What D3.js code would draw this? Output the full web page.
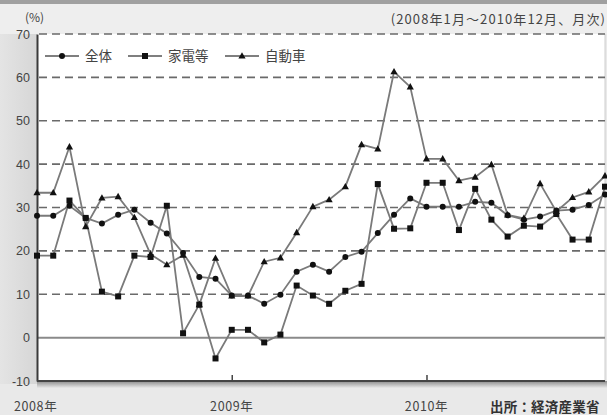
<!DOCTYPE html>
<html><head><meta charset="utf-8">
<script src="https://cdn.jsdelivr.net/npm/d3@7"></script>
<style>html,body{margin:0;padding:0;background:#e8e8e8;}svg{display:block;}</style>
</head><body>
<script>
const months = d3.range(36); // 2008-01 .. 2010-12
const yearLabels = ["2008年","2009年","2010年"];
const yearMonthIndex = [0,12,24];
const yTicks = [-10,0,10,20,30,40,50,60,70];
const seriesNames = ["全体","家電等","自動車"];
const zentai = [28.1,28.1,30.4,27.6,26.3,28.3,29.5,26.5,24.0,19.5,14.0,13.6,9.7,9.7,7.8,9.9,15.2,16.8,15.2,18.6,19.8,24.1,28.3,32.1,30.2,30.2,30.2,31.3,31.1,28.2,27.2,27.9,29.3,29.5,30.6,33.0];
const kaden  = [18.9,18.9,31.6,27.6,10.6,9.5,18.9,18.6,30.4,1.0,7.6,-4.8,1.8,1.8,-1.1,0.7,12.0,9.7,7.8,10.8,12.4,35.4,25.1,25.2,35.7,35.7,24.8,34.3,27.2,23.3,25.8,25.6,28.5,22.6,22.6,34.8];
const jidosha= [33.4,33.4,44.0,25.6,32.2,32.5,27.7,19.2,16.8,19.0,7.6,18.3,9.6,9.6,17.5,18.4,24.2,30.2,31.8,34.8,44.5,43.5,61.3,57.8,41.2,41.2,36.2,37.0,39.9,28.3,27.5,35.5,29.1,32.3,33.6,37.3];

const W=607,H=415;
const svg=d3.select("body").append("svg").attr("width",W).attr("height",H)
  .style("font-family","'Noto Sans CJK JP','Noto Sans',sans-serif");
const defs=svg.append("defs");
const lg=defs.append("linearGradient").attr("id","lm").attr("x1",0).attr("x2",1).attr("y1",0).attr("y2",0);
lg.append("stop").attr("offset",0).attr("stop-color","#e4e4e4");
lg.append("stop").attr("offset",1).attr("stop-color","#d6d6d6");
const sh=defs.append("linearGradient").attr("id","sh").attr("x1",0).attr("x2",0).attr("y1",0).attr("y2",1);
sh.append("stop").attr("offset",0).attr("stop-color","#8a8a8a");
sh.append("stop").attr("offset",1).attr("stop-color","#e8e8e8");

const x=d3.scaleLinear().domain([0,35]).range([37,605]);
const y=d3.scaleLinear().domain([-10,70]).range([381,34]);

// background pieces
svg.append("rect").attr("x",0).attr("y",0).attr("width",W).attr("height",H).attr("fill","#e9e9e9");
svg.append("rect").attr("x",0).attr("y",0).attr("width",W).attr("height",4).attr("fill","#a0a0a0");
svg.append("rect").attr("x",0).attr("y",4).attr("width",W).attr("height",30).attr("fill","#eeeeee");
svg.append("rect").attr("x",0).attr("y",34).attr("width",37).attr("height",350).attr("fill","url(#lm)");
svg.append("rect").attr("x",37).attr("y",34).attr("width",568).attr("height",347).attr("fill","#ffffff");
svg.append("rect").attr("x",37).attr("y",381).attr("width",570).attr("height",7).attr("fill","url(#sh)");
svg.append("line").attr("x1",605).attr("x2",605).attr("y1",34).attr("y2",381).attr("stroke","#cfcfcf").attr("stroke-width",1);

// grid
const grid=svg.append("g");
grid.selectAll("line").data(yTicks.filter(d=>d>0)).join("line")
  .attr("x1",39).attr("x2",605).attr("y1",d=>y(d)).attr("y2",d=>y(d))
  .attr("stroke","#6a6a6a").attr("stroke-width",1.6).attr("stroke-dasharray","8,5");
svg.append("line").attr("x1",37).attr("x2",605).attr("y1",y(0)).attr("y2",y(0))
  .attr("stroke","#8a8a8a").attr("stroke-width",2);

// y axis
const yAxis=d3.axisLeft(y).tickValues(yTicks).tickSize(0).tickPadding(7).tickFormat(d=>String(d));
const gy=svg.append("g").attr("transform","translate(37,0)").call(yAxis);
gy.select(".domain").attr("stroke","#3a3a3a").attr("stroke-width",2);
gy.selectAll("text").attr("font-size",12.5).attr("fill","#444").attr("font-family","'Liberation Sans',Arial,sans-serif");

// x axis
const xAxis=d3.axisBottom(x).tickValues([12,24]).tickSize(-6).tickFormat("");
const gx=svg.append("g").attr("transform","translate(0,381)").call(xAxis);
gx.select(".domain").attr("stroke","#444").attr("stroke-width",2).attr("d","M37,0H605");
gx.selectAll(".tick line").attr("stroke","#444").attr("stroke-width",1.5);
svg.selectAll(".ylab").data(yearMonthIndex).join("text").attr("class","ylab")
  .attr("x",d=>d===0?14:x(d)).attr("y",411).attr("text-anchor",d=>d===0?"start":"middle")
  .attr("font-size",12.5).attr("letter-spacing",0.6).attr("fill","#444").text((d,i)=>yearLabels[i]);

svg.append("text").attr("x",25).attr("y",22).attr("font-size",12).attr("fill","#444").text("(%)");
svg.append("text").attr("x",606).attr("y",24).attr("text-anchor","end").attr("font-size",13).attr("letter-spacing",1.1).attr("fill","#444").text("(2008年1月～2010年12月、月次)");
svg.append("text").attr("x",490).attr("y",412).attr("font-size",13.5).attr("letter-spacing",0.2).attr("font-weight","bold").attr("fill","#333").text("出所：経済産業省");

// series
const data=[zentai,kaden,jidosha];
const line=d3.line().x((d,i)=>x(i)).y(d=>y(d));
const lineCol="#7a7a7a", mk="#111";
data.forEach(s=>{
  svg.append("path").attr("d",line(s)).attr("fill","none").attr("stroke",lineCol).attr("stroke-width",1.8);
});
function marker(g,type,cx,cy){
  if(type===0) g.append("circle").attr("cx",cx).attr("cy",cy).attr("r",3).attr("fill",mk);
  else if(type===1) g.append("rect").attr("x",cx-3).attr("y",cy-3).attr("width",6).attr("height",6).attr("fill",mk);
  else g.append("path").attr("d",`M${cx},${cy-3.8}L${cx+3.6},${cy+2.6}L${cx-3.6},${cy+2.6}Z`).attr("fill",mk);
}
const mg=svg.append("g");
data.forEach((s,k)=>s.forEach((v,i)=>marker(mg,k,x(i),y(v))));

// legend
const legX=[45,128,225];
const legTextX=[85,168,265];
seriesNames.forEach((n,k)=>{
  const lx=legX[k], ly=56;
  svg.append("line").attr("x1",lx).attr("x2",lx+34).attr("y1",ly).attr("y2",ly).attr("stroke","#555").attr("stroke-width",1.6);
  marker(svg,k,lx+17,ly);
  svg.append("text").attr("x",legTextX[k]).attr("y",ly+5).attr("font-size",13.5).attr("fill","#444").text(n);
});
</script>
</body></html>
